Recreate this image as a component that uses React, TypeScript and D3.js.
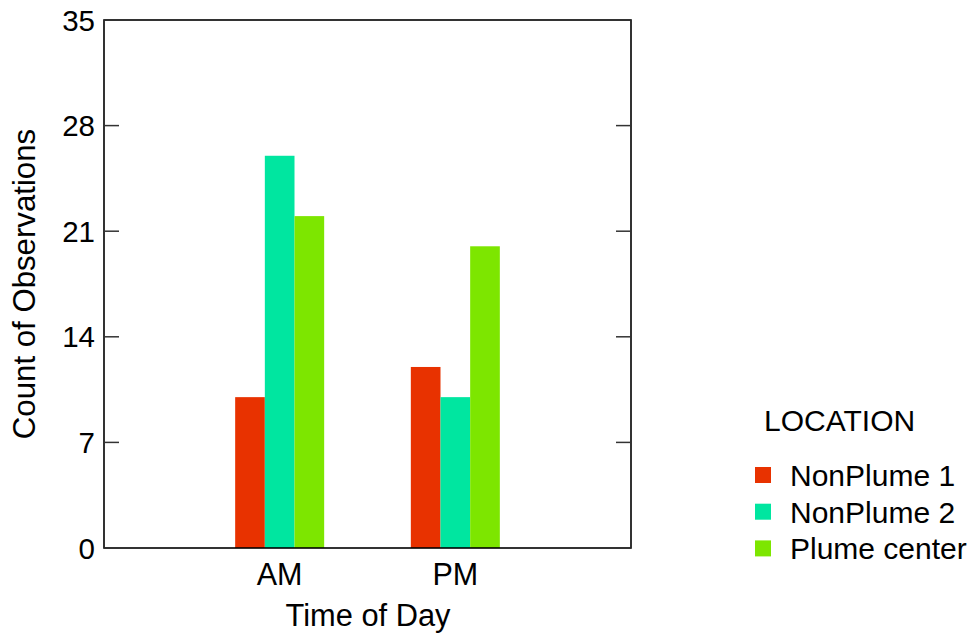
import React from "react";
import * as d3 from "d3";

const categories = ["AM", "PM"];
const seriesNames = ["NonPlume 1", "NonPlume 2", "Plume center"];
const nonPlume1 = [10, 12];
const nonPlume2 = [26, 10];
const plumeCenter = [22, 20];
const yTicks = [0, 7, 14, 21, 28, 35];
const colors = ["#E83200", "#00E6A0", "#7DE600"];

const W = 974;
const H = 634;
const M = { left: 104, right: 631, top: 20, bottom: 548 };
const FONT = "'Liberation Sans', Arial, sans-serif";

export default function App() {
  const series = [nonPlume1, nonPlume2, plumeCenter];
  const x = d3.scalePoint<string>().domain(categories).range([M.left, M.right]).padding(1);
  const inner = d3.scaleBand<number>().domain([0, 1, 2]).range([-44.5, 44.5]).padding(0);
  const y = d3.scaleLinear().domain([0, 35]).range([M.bottom, M.top]);

  return (
    <svg width={W} height={H} style={{ position: "absolute", left: 0, top: 0 }} fontFamily={FONT}>
      <rect x={0} y={0} width={W} height={H} fill="#fff" />
      {series.map((vals, si) =>
        categories.map((c, ci) => (
          <rect
            key={`${si}-${ci}`}
            x={(x(c) as number) + (inner(si) as number)}
            y={y(vals[ci])}
            width={inner.bandwidth()}
            height={y(0) - y(vals[ci])}
            fill={colors[si]}
          />
        ))
      )}
      <rect
        x={M.left}
        y={M.top}
        width={M.right - M.left}
        height={M.bottom - M.top}
        fill="none"
        stroke="#000"
        strokeWidth={1.6}
      />
      {yTicks.map((t) => (
        <g key={t}>
          <line x1={M.left} x2={M.left + 15} y1={y(t)} y2={y(t)} stroke="#333" strokeWidth={1.5} />
          <line x1={M.right - 15} x2={M.right} y1={y(t)} y2={y(t)} stroke="#333" strokeWidth={1.5} />
          <text x={95} y={y(t)} dy="0.36em" textAnchor="end" fontSize={29.5} fill="#000">
            {t}
          </text>
        </g>
      ))}
      {categories.map((c) => (
        <text key={c} x={x(c) as number} y={585} textAnchor="middle" fontSize={30.5} fill="#000">
          {c}
        </text>
      ))}
      <text x={368} y={626} textAnchor="middle" fontSize={30.8} fill="#000">
        Time of Day
      </text>
      <text
        transform={`translate(35,${(M.top + M.bottom) / 2}) rotate(-90)`}
        textAnchor="middle"
        fontSize={31.2}
        fill="#000"
      >
        Count of Observations
      </text>
      <text x={764} y={431} fontSize={30} fill="#000">
        LOCATION
      </text>
      {seriesNames.map((n, i) => (
        <g key={n} transform={`translate(0,${475 + i * 36.7})`}>
          <rect x={755} y={-8} width={16} height={16} fill={colors[i]} />
          <text x={790} y={0} dy="0.36em" fontSize={30} fill="#000">
            {n}
          </text>
        </g>
      ))}
    </svg>
  );
}
